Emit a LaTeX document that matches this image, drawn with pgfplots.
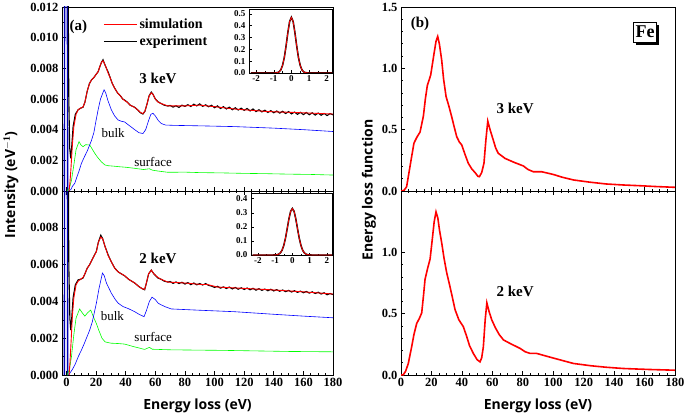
\documentclass[border=0pt]{standalone}
\usepackage{pgfplots}
\pgfplotsset{compat=1.18}
\usepackage{fontspec}
\setmainfont{Liberation Serif}
\newfontfamily\labfont{Open Sans}
\usetikzlibrary{shadows}

\pgfplotsset{
  panel/.style={
    scale only axis, anchor=south west,
    axis line style={line width=0.8pt},
    tick align=inside, major tick length=4pt, minor tick length=2.2pt,
    every tick/.style={black, line width=0.6pt},
    ytick pos=left,
    tick label style={font=\fontsize{12.5}{12.5}\selectfont\bfseries},
    /pgf/number format/assume math mode=true,
    xmax=180, xtick={0,20,...,180}, minor x tick num=3,
  },
  left/.style={panel, width=271pt, height=184pt, xmin=-3, ymin=0,
    scaled y ticks=false,
    yticklabel style={/pgf/number format/.cd, fixed, fixed zerofill, precision=3},
    minor y tick num=1},
  right/.style={panel, width=274pt, height=184pt, xmin=0, ymin=0, ymax=1.5,
    yticklabel style={/pgf/number format/.cd, fixed, fixed zerofill, precision=1},
    minor y tick num=4},
  inset/.style={scale only axis, anchor=south west, axis background/.style={fill=white},
    axis line style={line width=0.6pt},
    tick align=inside, major tick length=2.5pt, minor tick length=1.5pt,
    every tick/.style={black, line width=0.4pt},
    xtick pos=bottom, ytick pos=left,
    tick label style={font=\fontsize{9}{9}\selectfont\bfseries},
    /pgf/number format/assume math mode=true,
    xmin=-2.4, xmax=2.3, xtick={-2,-1,0,1,2}, minor x tick num=1,
    ymin=0, ytick={0,0.1,...,0.5},
    yticklabel style={/pgf/number format/.cd, fixed, fixed zerofill, precision=1},
    xticklabel style={yshift=1pt}},
  sim/.style={red, line width=0.9pt},
  exp/.style={black, line width=1.1pt},
  bulk/.style={blue, line width=0.6pt},
  surf/.style={green, line width=0.6pt},
  elf/.style={red, line width=1.6pt},
}

\begin{document}
\begin{tikzpicture}[x=1pt,y=1pt]
\useasboundingbox (0,0) rectangle (685,418);

% ---------- (a) 3 keV ----------
\begin{axis}[left, at={(62pt,227pt)}, ymax=0.012, ytick={0,0.002,...,0.012},
  xtick pos=bottom, xticklabels={},
  legend style={draw=none, fill=none, at={(0.14,0.96)}, anchor=north west,
    font=\fontsize{14}{14}\selectfont\bfseries, row sep=2pt,
    cells={anchor=west}},
  legend image code/.code={\draw[#1] (0pt,0pt) -- (33pt,0pt);}]
\addlegendimage{sim}\addlegendentry{simulation}
\addlegendimage{exp, line width=1.4pt}\addlegendentry{experiment}
\addplot[blue!70!black, line width=1.4pt, forget plot] coordinates {(-1.4,0) (-0.9,0.04) (0.3,0.04) (0.8,0)};
\addplot[surf, forget plot] coordinates {
(0.5,0) (2,0.0002) (3.4,0.0007) (5,0.0017) (6.5,0.0027) (8.5,0.00322) (9.8,0.0030) (11.2,0.00289)
(13,0.00302) (15.7,0.00300) (17,0.0028) (19.1,0.00246) (21,0.0022) (23.6,0.0019) (26,0.0017)
(28.1,0.00165) (32,0.00162) (36,0.00158) (40,0.00155) (46.1,0.00148) (52,0.00140) (56,0.00145)
(58,0.00136) (62,0.00130) (68.5,0.00122) (80,0.00123) (90,0.00120) (105,0.00118) (120,0.00115)
(135,0.00113) (150,0.00110) (165,0.00108) (180,0.00104)};
\addplot[bulk, forget plot] coordinates {
(1.5,0) (3,0.0001) (4,0.0003) (5.6,0.0005) (7,0.0009) (8.5,0.0013) (10.1,0.0018) (12,0.0022)
(14,0.0026) (16.9,0.0033) (18.5,0.0038) (20,0.0046) (21.4,0.0053) (23,0.0060) (25.4,0.0066)
(26.5,0.0064) (28,0.0059) (30.3,0.0053) (32.5,0.0049) (34.9,0.00463) (37,0.00455) (39.3,0.0045)
(42,0.0043) (46.1,0.0040) (49,0.0038) (51.7,0.00375) (53.5,0.0040) (55.5,0.0046) (57,0.0050)
(58.4,0.00507) (60,0.0049) (62,0.0046) (64,0.0044) (67,0.0043) (73,0.00428) (90,0.00425)
(113.5,0.0042) (140,0.0041) (160,0.0040) (180,0.00388)};
\addplot[exp, forget plot] coordinates {
(0.8,0.02) (1.6,0.006) (2.2,0.0028) (2.9,0.00213) (3.5,0.0028) (4.5,0.0042) (6,0.0050)
(7.9,0.0053) (9.5,0.0054) (11.2,0.00546) (12.5,0.0058) (14,0.0065) (15.5,0.0070) (16.9,0.00724)
(18.5,0.0074) (20,0.0076) (21.4,0.00778) (22.5,0.0081) (23.7,0.0084) (24.7,0.00856) (25.7,0.0083)
(27,0.0080) (28.1,0.00778) (29.5,0.0074) (31,0.0070) (32.6,0.0067) (34.5,0.0064) (36.5,0.0062)
(38,0.0060) (39.3,0.00593) (41,0.0058) (43,0.0056) (46.1,0.00546) (48,0.0053) (50,0.0051)
(51.7,0.00502) (53,0.0052) (54.5,0.0057) (55.8,0.0062) (57.3,0.00645) (58.5,0.0063) (60,0.0060)
(61.8,0.00582) (64,0.0057) (66,0.0056) (68.5,0.00554)
(70,0.00558) (72,0.00547) (74,0.00556) (76,0.00545) (78,0.00560) (80,0.00552) (82,0.00563)
(84,0.00551) (86,0.00566) (88,0.00555) (90,0.00568) (92,0.00552) (94,0.00562) (96,0.00549)
(98,0.00559) (100,0.00543) (102,0.00555) (104,0.00538) (106,0.00550) (108,0.00535) (110,0.00547)
(112,0.00530) (114,0.00543) (116,0.00528) (118,0.00540) (120,0.00526) (122,0.00538) (124,0.00522)
(126,0.00535) (128,0.00518) (130,0.00530) (132,0.00516) (134,0.00527) (136,0.00512) (138,0.00524)
(140,0.00510) (142,0.00522) (144,0.00508) (146,0.00520) (148,0.00505) (150,0.00518) (152,0.00503)
(154,0.00515) (156,0.00500) (158,0.00513) (160,0.00498) (162,0.00512) (164,0.00497) (166,0.00510)
(168,0.00495) (170,0.00508) (172,0.00494) (174,0.00506) (176,0.00492) (178,0.00505) (180,0.00497)};
\addplot[sim, forget plot] coordinates {
(1.8,0) (2.4,0.0006) (3,0.0014) (4,0.0030) (5,0.0042) (6.5,0.0050) (7.9,0.0053) (9.5,0.0054)
(11.2,0.00548) (12.5,0.0058) (14,0.0065) (15.5,0.0070) (16.9,0.00724) (18.5,0.0074) (20,0.0076)
(21.4,0.00778) (22.5,0.0081) (23.7,0.0084) (24.7,0.0085) (25.7,0.0083) (27,0.0080) (28.1,0.0077)
(29.5,0.0074) (31,0.0070) (32.6,0.0067) (34.5,0.0064) (36.5,0.0062) (38,0.0060) (39.3,0.0059)
(41,0.0058) (43,0.0056) (46.1,0.00545) (48,0.0053) (50,0.00512) (51.7,0.00505) (53,0.0052)
(54.5,0.0057) (55.8,0.0062) (57.3,0.0064) (58.5,0.0063) (60,0.0060) (61.8,0.0058) (64,0.0057)
(68.5,0.00555) (80,0.00555) (90,0.0056) (100,0.0055) (113,0.00535) (136,0.00518) (160,0.0051)
(180,0.00502)};
\node[font=\fontsize{15}{15}\selectfont\bfseries] at (axis cs:8,0.0107) {(a)};
\node[font=\fontsize{15}{15}\selectfont\bfseries] at (axis cs:61.8,0.00735) {3 keV};
\node[font=\fontsize{13}{13}\selectfont] at (axis cs:31.5,0.00376) {bulk};
\node[font=\fontsize{13}{13}\selectfont] at (axis cs:58.5,0.00191) {surface};
\end{axis}

% ---------- (a) 2 keV ----------
\begin{axis}[left, at={(62pt,43pt)}, ymax=0.010, ytick={0,0.002,...,0.008},
  xtick pos=both, xtick={0,20,...,180},
  xlabel={\labfont\bfseries Energy loss (eV)},
  xlabel style={font=\fontsize{14}{14}\selectfont, at={(0.5,0)}, anchor=north, yshift=-20pt}]
\addplot[blue!70!black, line width=1.4pt] coordinates {(-1.4,0) (-0.9,0.04) (0.3,0.04) (0.8,0)};
\addplot[surf] coordinates {
(0.5,0) (2,0.0003) (3.4,0.0010) (5,0.0022) (6.5,0.0031) (8.9,0.00359) (10.5,0.0034) (12.4,0.0032)
(14.5,0.0034) (16.4,0.00353) (18,0.0032) (20.2,0.0028) (22,0.0024) (24,0.0020) (26.1,0.0018)
(30,0.00173) (35,0.00171) (39.3,0.00168) (45,0.00155) (52.8,0.00139) (56,0.00150) (58,0.00140)
(70,0.00137) (80,0.00136) (91,0.00135) (105,0.00134) (120,0.00132) (135,0.00130) (150,0.00128)
(165,0.00127) (180,0.00126)};
\addplot[bulk] coordinates {
(1.5,0) (2.3,0.0001) (4,0.0003) (6,0.0006) (8,0.0010) (10.1,0.00135) (12,0.0017) (14,0.0021)
(15.7,0.00244) (17.5,0.0029) (20.2,0.0039) (22,0.0047) (24.3,0.00554) (25.5,0.0054) (27,0.0050)
(30.3,0.00445) (33,0.0041) (35,0.0039) (38.2,0.00372) (42,0.0036) (46.1,0.00344) (49,0.0033)
(52.4,0.00317) (54,0.0035) (56,0.0040) (57.8,0.00423) (60,0.0041) (62,0.0039) (64,0.00381)
(67,0.0037) (70.8,0.00359) (90,0.00352) (113.5,0.00344) (140,0.0033) (160,0.0032) (180,0.00311)};
\addplot[exp] coordinates {
(0.8,0.02) (1.6,0.006) (2.3,0.0031) (2.9,0.00244) (3.5,0.0030) (4.5,0.0042) (6,0.0049)
(7.9,0.00517) (9.5,0.0052) (11.2,0.00527) (12.5,0.0055) (14,0.0058) (15.7,0.0060) (17.5,0.0063)
(20.2,0.00672) (21.5,0.0072) (23.2,0.00760) (24.5,0.0074) (26,0.0070) (28.1,0.00654) (30,0.0062)
(32.6,0.00581) (35,0.0056) (37,0.0055) (39.3,0.00539) (42,0.0052) (46.1,0.0050) (49,0.0048)
(51,0.0047) (52.8,0.00463) (54,0.0050) (55.5,0.0055) (57.3,0.00570) (59,0.0055) (61.8,0.00527)
(64,0.0052) (66,0.0051) (68.5,0.00505)
(70,0.00508) (72,0.00498) (74,0.00506) (76,0.00497) (78,0.00504) (80,0.00494) (82,0.00502)
(84,0.00491) (86,0.00500) (88,0.00490) (90,0.00497) (92,0.00489) (94,0.00497) (96,0.00487)
(98,0.00483) (100,0.00476) (102,0.00482) (104,0.00472) (106,0.00479) (108,0.00470) (110,0.00478)
(112,0.00468) (114,0.00476) (116,0.00466) (118,0.00474) (120,0.00465) (122,0.00473) (124,0.00463)
(126,0.00471) (128,0.00461) (130,0.00469) (132,0.00460) (134,0.00467) (136,0.00458) (138,0.00466)
(140,0.00457) (142,0.00464) (144,0.00455) (146,0.00462) (148,0.00453) (150,0.00460) (152,0.00451)
(154,0.00458) (156,0.00449) (158,0.00456) (160,0.00447) (162,0.00454) (164,0.00445) (166,0.00452)
(168,0.00443) (170,0.00450) (172,0.00440) (174,0.00447) (176,0.00436) (178,0.00443) (180,0.00437)};
\addplot[sim] coordinates {
(1.8,0) (2.4,0.0007) (3,0.0016) (4,0.0032) (5,0.0042) (6.5,0.0049) (7.9,0.0051) (9.5,0.0052)
(11.2,0.0053) (12.5,0.0055) (14,0.0058) (15.7,0.0060) (17.5,0.0063) (20.2,0.0067) (21.5,0.0072)
(23.2,0.0075) (24.5,0.0074) (26,0.0070) (28.1,0.0065) (30,0.0062) (32.6,0.0058) (35,0.0056)
(37,0.0055) (39.3,0.0054) (42,0.0052) (46.1,0.0050) (49,0.0048) (51,0.0047) (52.8,0.00465)
(54,0.0050) (55.5,0.0055) (57.3,0.0057) (59,0.0055) (61.8,0.0053) (64,0.0052) (68.5,0.00505)
(80,0.0050) (91,0.00492) (95,0.00492) (102,0.00478) (136,0.00464) (160,0.00452) (180,0.0044)};
\node[font=\fontsize{15}{15}\selectfont\bfseries] at (axis cs:61.8,0.00636) {2 keV};
\node[font=\fontsize{13}{13}\selectfont] at (axis cs:31,0.0032) {bulk};
\node[font=\fontsize{13}{13}\selectfont] at (axis cs:58.6,0.00204) {surface};
\end{axis}

% ---------- insets ----------
\begin{axis}[inset, at={(249pt,345pt)}, width=83pt, height=64pt, ymax=0.54]
\addplot[black, line width=1.5pt] coordinates {
(-2.3,0) (-1,0) (-0.8,0.003) (-0.7,0.009) (-0.6,0.026) (-0.5,0.064) (-0.4,0.131) (-0.3,0.229)
(-0.2,0.341) (-0.1,0.434) (0,0.47) (0.1,0.434) (0.2,0.341) (0.3,0.229) (0.4,0.131) (0.5,0.064)
(0.6,0.026) (0.7,0.009) (0.8,0.003) (1,0) (2.3,0)};
\addplot[red, line width=0.8pt] coordinates {
(-2.3,0) (-1,0) (-0.8,0.003) (-0.7,0.009) (-0.6,0.026) (-0.5,0.064) (-0.4,0.131) (-0.3,0.229)
(-0.2,0.341) (-0.1,0.434) (0,0.47) (0.1,0.434) (0.2,0.341) (0.3,0.229) (0.4,0.131) (0.5,0.064)
(0.6,0.026) (0.7,0.009) (0.8,0.003) (1,0) (2.3,0)};
\end{axis}
\begin{axis}[inset, at={(251pt,163pt)}, width=81pt, height=62pt, ymax=0.44, ytick={0,0.1,...,0.4}]
\addplot[black, line width=1.5pt] coordinates {
(-2.3,0) (-1.1,0) (-0.9,0.0017) (-0.8,0.0056) (-0.7,0.0145) (-0.6,0.033) (-0.5,0.067) (-0.4,0.119)
(-0.3,0.186) (-0.2,0.256) (-0.1,0.310) (0,0.33) (0.1,0.310) (0.2,0.256) (0.3,0.186) (0.4,0.119)
(0.5,0.067) (0.6,0.033) (0.7,0.0145) (0.8,0.0056) (0.9,0.0017) (1.1,0) (2.3,0)};
\addplot[red, line width=0.8pt] coordinates {
(-2.3,0) (-1.1,0) (-0.9,0.0017) (-0.8,0.0056) (-0.7,0.0145) (-0.6,0.033) (-0.5,0.067) (-0.4,0.119)
(-0.3,0.186) (-0.2,0.256) (-0.1,0.310) (0,0.33) (0.1,0.310) (0.2,0.256) (0.3,0.186) (0.4,0.119)
(0.5,0.067) (0.6,0.033) (0.7,0.0145) (0.8,0.0056) (0.9,0.0017) (1.1,0) (2.3,0)};
\end{axis}

% ---------- (b) 3 keV ----------
\begin{axis}[right, at={(401pt,227pt)}, ytick={0,0.5,1.0,1.5}, xtick pos=bottom, xticklabels={}]
\addplot[elf] coordinates {
(0,0) (2,0.005) (3.7,0.035) (5.9,0.20) (8.5,0.39) (10.5,0.44) (12.5,0.48) (14.7,0.61) (16,0.75)
(17.3,0.86) (19.5,0.945) (21.7,1.12) (23,1.22) (24.1,1.26) (25.2,1.20) (26.7,1.07) (28,0.91)
(29.6,0.77) (31.5,0.69) (33.3,0.605) (35,0.52) (36.6,0.443) (38.3,0.40) (39.9,0.375) (42,0.30)
(44.2,0.226) (46.5,0.18) (49,0.145) (50.5,0.12) (51.5,0.117) (53,0.15) (54.5,0.226) (55.8,0.42)
(57,0.57) (58.5,0.50) (60.6,0.416) (62.2,0.35) (63.9,0.307) (66,0.288) (68.3,0.266) (74,0.235)
(80.4,0.204) (83.5,0.175) (86.9,0.157) (92.4,0.157) (100,0.135) (106,0.112) (113.3,0.090)
(124,0.072) (135,0.057) (146,0.049) (157,0.043) (168,0.036) (180,0.030)};
\node[font=\fontsize{15}{15}\selectfont\bfseries] at (axis cs:12.5,1.36) {(b)};
\node[font=\fontsize{15}{15}\selectfont\bfseries] at (axis cs:75,0.674) {3 keV};
\node[font=\fontsize{18}{18}\selectfont\bfseries, draw=black, line width=0.6pt, fill=white,
  inner sep=2pt, minimum height=20pt,
  drop shadow={shadow xshift=2.5pt, shadow yshift=-2.5pt, opacity=1, fill=black}]
  at (axis cs:160.3,1.296) {Fe};
\end{axis}

% ---------- (b) 2 keV ----------
\begin{axis}[right, at={(401pt,43pt)}, ytick={0,0.5,1.0}, xtick pos=both,
  xlabel={\labfont\bfseries Energy loss (eV)},
  xlabel style={font=\fontsize{14}{14}\selectfont, at={(0.5,0)}, anchor=north, yshift=-20pt}]
\addplot[elf] coordinates {
(0,0) (1.5,0.002) (3,0.03) (4.8,0.094) (7,0.23) (8.5,0.33) (10.3,0.42) (12,0.46) (13.6,0.506)
(14.8,0.65) (15.8,0.78) (17.5,0.87) (19.1,0.945) (20.5,1.10) (21.8,1.25) (23,1.33) (24.2,1.28)
(25.3,1.18) (26.7,1.08) (28.3,0.95) (30,0.835) (32,0.73) (33.8,0.63) (35.5,0.533) (38,0.45)
(40.9,0.395) (43,0.32) (45,0.24) (47.5,0.176) (50,0.125) (51.9,0.107) (53,0.14) (54.1,0.23)
(55.3,0.45) (56.4,0.588) (57.8,0.52) (59.6,0.45) (62,0.385) (64.5,0.33) (67.3,0.286)
(72,0.255) (78.2,0.217) (81.5,0.19) (84.8,0.176) (89.1,0.176) (96,0.152) (104,0.125)
(113.3,0.094) (125,0.075) (135,0.063) (146,0.053) (163,0.045) (180,0.039)};
\node[font=\fontsize{15}{15}\selectfont\bfseries] at (axis cs:75,0.684) {2 keV};
\end{axis}

% ---------- axis titles ----------
\node[rotate=90, font=\fontsize{14}{14}\selectfont\labfont\bfseries] at (11,233) {Intensity (eV$^{\mathbf{-1}}$)};
\node[rotate=90, font=\fontsize{14}{14}\selectfont\labfont\bfseries] at (369,228) {Energy loss function};
\end{tikzpicture}
\end{document}
